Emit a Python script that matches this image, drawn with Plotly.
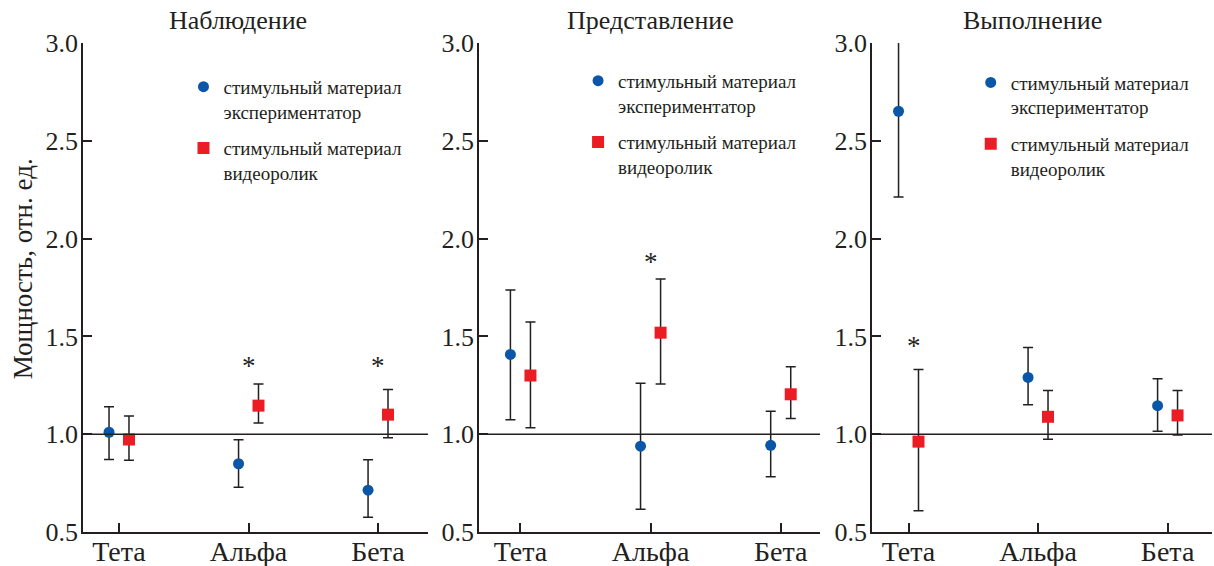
import plotly.graph_objects as go

categories = ["Тета", "Альфа", "Бета"]
panels = ["Наблюдение", "Представление", "Выполнение"]
series_names = ["стимульный материал<br>экспериментатор", "стимульный материал<br>видеоролик"]
y_title = "Мощность, отн. ед."

# values per panel: [Тета, Альфа, Бета]
exp_mean = [[1.010, 0.849, 0.714], [1.408, 0.939, 0.943], [2.651, 1.290, 1.146]]
exp_upper = [[1.140, 0.971, 0.869], [1.737, 1.261, 1.117], [3.007, 1.443, 1.283]]
exp_lower = [[0.871, 0.729, 0.575], [1.074, 0.616, 0.783], [2.213, 1.150, 1.015]]

vid_mean = [[0.973, 1.146, 1.100], [1.300, 1.519, 1.204], [0.962, 1.089, 1.096]]
vid_upper = [[1.093, 1.257, 1.229], [1.573, 1.793, 1.345], [1.331, 1.224, 1.224]]
vid_lower = [[0.867, 1.057, 0.982], [1.033, 1.257, 1.080], [0.609, 0.974, 0.996]]

# significance marks: (panel, category index, y)
stars = [(0, 1, 1.367), (0, 2, 1.367), (1, 1, 1.899), (2, 0, 1.469)]

y_ticks = [0.5, 1.0, 1.5, 2.0, 2.5, 3.0]

BLUE = "#0a56a8"
RED = "#ec1c24"
INK = "#231f20"
FONT = "Liberation Serif"

domains = [[0.0, 0.3056], [0.3508, 0.6528], [0.6989, 1.0]]
xranges = [[-0.278, 2.386], [-0.318, 2.302], [-0.2815, 2.343]]
star_dx = [0.0, 0.0, 0.04]
offset = 0.077

fig = go.Figure()
xs = list(range(len(categories)))
for p in range(3):
    ax = "" if p == 0 else str(p + 1)
    lg = "legend" if p == 0 else f"legend{p + 1}"
    for s, (mean, up, lo, color, sym, size) in enumerate([
        (exp_mean, exp_upper, exp_lower, BLUE, "circle", 11),
        (vid_mean, vid_upper, vid_lower, RED, "square", 12),
    ]):
        m = mean[p]
        fig.add_trace(go.Scatter(
            x=[x + (-offset if s == 0 else offset) for x in xs],
            y=m,
            mode="markers",
            name=series_names[s],
            legend=lg,
            legendgroup=f"g{p}{s}",
            cliponaxis=False,
            marker=dict(color=color, symbol=sym, size=size, line=dict(width=0)),
            error_y=dict(type="data", symmetric=False,
                         array=[u - v for u, v in zip(up[p], m)],
                         arrayminus=[v - l for v, l in zip(m, lo[p])],
                         color=INK, thickness=1.5, width=5),
            xaxis="x" + ax, yaxis="y" + ax,
        ))

annotations = []
shapes = []
title_x = [0.919, 1.0, 0.954]
for p in range(3):
    ax = "" if p == 0 else str(p + 1)
    annotations.append(dict(text=panels[p], x=title_x[p], y=1.046, xref="x" + ax,
                            yref="paper", showarrow=False, yanchor="middle",
                            font=dict(family=FONT, size=26, color=INK)))
    shapes.append(dict(type="line", xref=f"x{ax} domain", yref="y" + ax,
                       x0=0, x1=1, y0=1.0, y1=1.0, line=dict(color=INK, width=1.5)))
for p, c, yv in stars:
    ax = "" if p == 0 else str(p + 1)
    annotations.append(dict(text="*", x=c + star_dx[p], y=yv, xref="x" + ax, yref="y" + ax,
                            showarrow=False, yanchor="middle", yshift=-4,
                            font=dict(family=FONT, size=27, color=INK)))
annotations.append(dict(text=y_title, x=-0.0531, y=0.5375, xref="paper", yref="paper",
                        textangle=-90, showarrow=False, xanchor="center", yanchor="middle",
                        font=dict(family=FONT, size=27, color=INK)))

layout = dict(
    width=1214, height=566,
    margin=dict(l=83, r=2, t=43, b=34, autoexpand=False),
    paper_bgcolor="white", plot_bgcolor="white",
    font=dict(family=FONT, size=24, color=INK),
    annotations=annotations, shapes=shapes,
)
legend_pos = [(0.089, 0.9493), (0.4385, 0.9616), (0.7863, 0.958)]
for p in range(3):
    ax = "" if p == 0 else str(p + 1)
    lg = "legend" if p == 0 else f"legend{p + 1}"
    layout["xaxis" + ax] = dict(
        domain=domains[p], range=xranges[p], tickvals=xs, ticktext=categories,
        ticks="inside", ticklen=9, tickwidth=1.5, tickcolor=INK, ticklabelstandoff=-6,
        showline=True, linecolor=INK, linewidth=1.5, showgrid=False, zeroline=False,
        automargin=False,
        anchor="y" + ax, tickfont=dict(family=FONT, size=28, color=INK),
    )
    layout["yaxis" + ax] = dict(
        range=[0.5, 3.0], tickvals=y_ticks, ticktext=[f"{v:.1f}" for v in y_ticks],
        ticks="inside", ticklen=9, tickwidth=1.5, tickcolor=INK, ticklabelstandoff=-2,
        showline=True, linecolor=INK, linewidth=1.5, showgrid=False, zeroline=False,
        automargin=False,
        anchor="x" + ax, tickfont=dict(family=FONT, size=26, color=INK),
    )
    layout[lg] = dict(x=legend_pos[p][0], y=legend_pos[p][1], xanchor="left", yanchor="top",
                      bgcolor="rgba(0,0,0,0)", valign="top", tracegroupgap=9,
                      font=dict(family=FONT, size=19, color=INK))

fig.update_layout(**layout)
fig.write_html("out.html", config={"displayModeBar": False},
               post_script="document.body.style.margin='0';")
